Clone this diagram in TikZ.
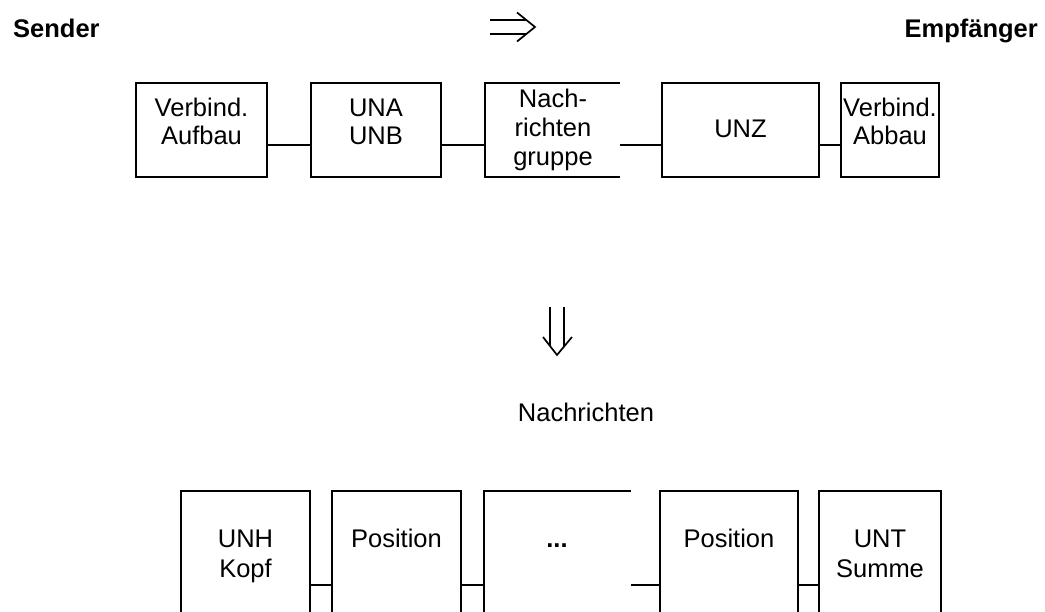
\documentclass[tikz,border=0pt]{standalone}
\usepackage{fontspec}
\setmainfont{Liberation Sans}
\begin{document}
\begin{tikzpicture}[x=1pt,y=-1pt,
  box/.style={draw, line width=1.8pt, inner sep=0pt, outer sep=0pt, anchor=north west},
  ln/.style={line width=1.8pt},
  lbl/.style={anchor=base, inner sep=0pt, font=\fontsize{25.5}{28}\selectfont},
  hdr/.style={inner sep=0pt, font=\fontsize{25.5}{28}\selectfont\bfseries},
  arr/.style={line width=1.7pt, line join=miter}]
\useasboundingbox (0,0) rectangle (1045,612);
\clip (0,0) rectangle (1045,612);

% header
\node[hdr, anchor=base west] (sender) at (13,38) {Sender};
\node[hdr, anchor=base east] (empf) at (1038,38) {Empfänger};
\draw[arr] (490,20) -- (527,20);
\draw[arr] (490,34) -- (527,34);
\draw[arr] (517,12.5) -- (535,27) -- (517,41.5);

% top row
\node[box, minimum width=131pt, minimum height=94pt] (b1) at (136,83) {};
\node[box, minimum width=130pt, minimum height=94pt] (b2) at (311,83) {};
\coordinate (b3tl) at (485,83);
\coordinate (b3tr) at (620,83);
\coordinate (b3bl) at (485,177);
\coordinate (b3br) at (620,177);
\coordinate (b3w) at (485,145);
\coordinate (b3e) at (620,145);
\draw[ln] (b3tr) -- (b3tl) -- (b3bl) -- (b3br);
\node[box, minimum width=157pt, minimum height=94pt] (b4) at (662,83) {};
\node[box, minimum width=98pt, minimum height=94pt] (b5) at (841,83) {};

\draw[ln] ([yshift=-15pt]b1.east) -- ([yshift=-15pt]b2.west);
\draw[ln] ([yshift=-15pt]b2.east) -- (b3w);
\draw[ln] (b3e) -- ([yshift=-15pt]b4.west);
\draw[ln] ([yshift=-15pt]b4.east) -- ([yshift=-15pt]b5.west);

\node[lbl] (t1a) at (201.5,117) {Verbind.};
\node[lbl] (t1b) at (201.5,145) {Aufbau};
\node[lbl] (t2a) at (376,117) {UNA};
\node[lbl] (t2b) at (376,145) {UNB};
\node[lbl] (t3a) at (553,108) {Nach-};
\node[lbl] (t3b) at (553,137) {richten};
\node[lbl] (t3c) at (553,166) {gruppe};
\node[lbl] (t4) at (740.5,138) {UNZ};
\node[lbl] (t5a) at (890,117) {Verbind.};
\node[lbl] (t5b) at (890,145) {Abbau};

% down arrow
\draw[arr] (550,307) -- (550,346);
\draw[arr] (564,307) -- (564,346);
\draw[arr] (543,337) -- (557,355) -- (572,337);

\node[lbl] (nachr) at (586,421) {Nachrichten};

% bottom row
\node[box, minimum width=129pt, minimum height=140pt] (c1) at (181,491) {};
\node[box, minimum width=129pt, minimum height=140pt] (c2) at (332,491) {};
\coordinate (c3tl) at (484,491);
\coordinate (c3tr) at (631,491);
\coordinate (c3bl) at (484,631);
\coordinate (c3w) at (484,585);
\coordinate (c3e) at (631,585);
\draw[ln] (c3tr) -- (c3tl) -- (c3bl);
\node[box, minimum width=138pt, minimum height=140pt] (c4) at (660,491) {};
\node[box, minimum width=122pt, minimum height=140pt] (c5) at (819,491) {};

\draw[ln] ([yshift=-94pt]c1.north east) -- ([yshift=-94pt]c2.north west);
\draw[ln] ([yshift=-94pt]c2.north east) -- (c3w);
\draw[ln] (c3e) -- ([yshift=-94pt]c4.north west);
\draw[ln] ([yshift=-94pt]c4.north east) -- ([yshift=-94pt]c5.north west);

\node[lbl] (u1a) at (245.5,547) {UNH};
\node[lbl] (u1b) at (245.5,577) {Kopf};
\node[lbl] (u2) at (396.5,547) {Position};
\node[lbl, font=\fontsize{25.5}{28}\selectfont\bfseries] (u3) at (557,547) {...};
\node[lbl] (u4) at (729,547) {Position};
\node[lbl] (u5a) at (880,547) {UNT};
\node[lbl] (u5b) at (880,577) {Summe};
\end{tikzpicture}
\end{document}
